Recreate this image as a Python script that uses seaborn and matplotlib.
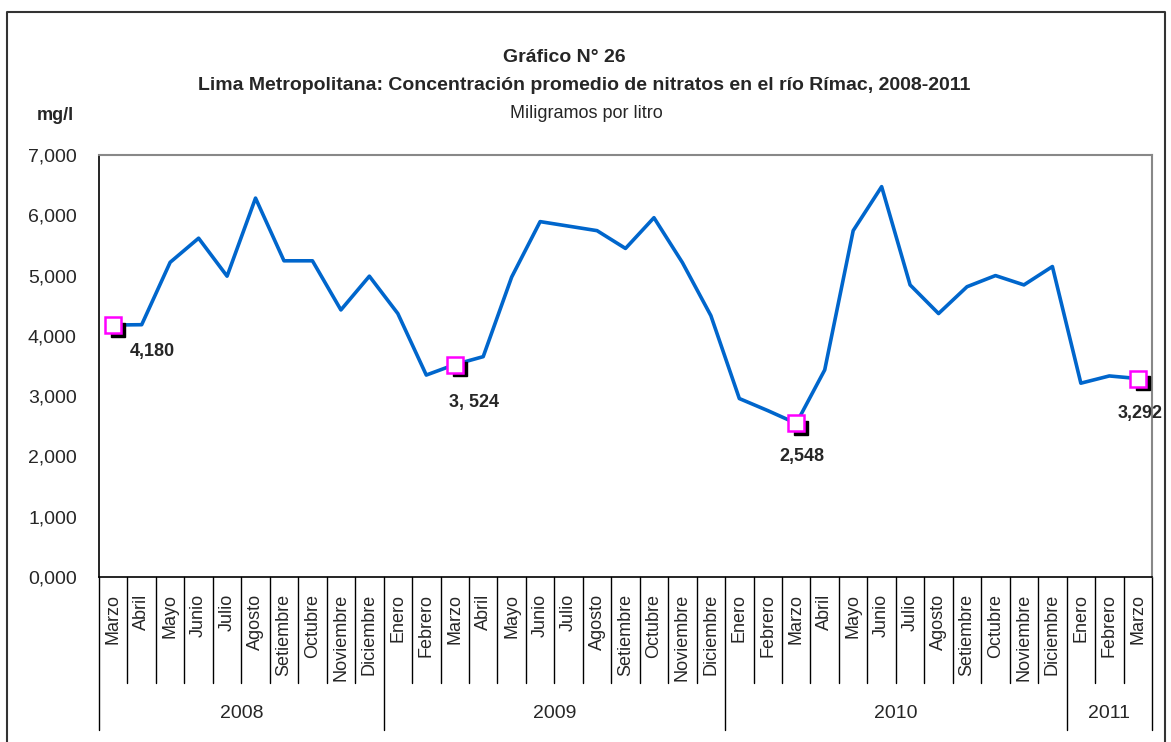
import numpy as np
import pandas as pd
import seaborn as sns
import matplotlib.pyplot as plt
from matplotlib.lines import Line2D
from matplotlib.transforms import offset_copy, blended_transform_factory
from matplotlib.ticker import FuncFormatter

# Monthly data, Marzo 2008 - Marzo 2011
meses = ["Marzo", "Abril", "Mayo", "Junio", "Julio", "Agosto", "Setiembre", "Octubre",
         "Noviembre", "Diciembre",
         "Enero", "Febrero", "Marzo", "Abril", "Mayo", "Junio", "Julio", "Agosto",
         "Setiembre", "Octubre", "Noviembre", "Diciembre",
         "Enero", "Febrero", "Marzo", "Abril", "Mayo", "Junio", "Julio", "Agosto",
         "Setiembre", "Octubre", "Noviembre", "Diciembre",
         "Enero", "Febrero", "Marzo"]
nitratos = [4180, 4185, 5220, 5620, 4990, 6285, 5245, 5245, 4430, 4990,
            4370, 3350, 3524, 3655, 4975, 5895, 5820, 5745, 5450, 5960, 5215, 4335,
            2960, 2760, 2548, 3435, 5745, 6475, 4845, 4370, 4815, 5000, 4845, 5150,
            3215, 3335, 3292]
anios = ["2008", "2009", "2010", "2011"]
meses_por_anio = [10, 12, 12, 3]
destacados = [0, 12, 24, 36]
etiquetas = ["4,180", "3, 524", "2,548", "3,292"]

sns.set_style("white")
plt.rcParams["font.family"] = ["Liberation Sans Narrow", "Liberation Sans", "DejaVu Sans"]

df = pd.DataFrame({"pos": np.arange(len(nitratos)), "valor": nitratos})

fig = plt.figure(figsize=(11.71, 7.42), dpi=100)
ax = fig.add_axes([99 / 1171, 1 - 577 / 742, (1152 - 99) / 1171, (577 - 155) / 742])

sns.lineplot(data=df, x="pos", y="valor", ax=ax, color="#0066CC", linewidth=2.6)

# highlighted March points with shadow
hx = [df["pos"][i] for i in destacados]
hy = [df["valor"][i] for i in destacados]
shadow = offset_copy(ax.transData, fig=fig, x=3.5, y=-3.5, units="points")
ax.plot(hx, hy, "s", color="black", markersize=10, transform=shadow, zorder=4, clip_on=False)
ax.plot(hx, hy, "s", markerfacecolor="white", markeredgecolor="#FF00FF",
        markeredgewidth=1.8, markersize=11, zorder=5, linestyle="none", clip_on=False)

offsets = [(28, -19), (14, -27), (4, -24), (2, -25)]
for x, y, t, o in zip(hx, hy, etiquetas, offsets):
    ax.annotate(t, (x, y), xytext=o, textcoords="offset points", ha="center", va="center",
                fontsize=13, fontweight="bold")

ax.set_xlim(-0.5, len(nitratos) - 0.5)
ax.set_ylim(0, 7000)
ax.set_yticks(range(0, 7001, 1000))
ax.yaxis.set_major_formatter(FuncFormatter(lambda v, p: f"{int(v) // 1000},000"))
ax.tick_params(axis="y", direction="out", length=6, width=1, color="black", labelsize=14, pad=10)
ax.set_xticks(df["pos"])
ax.set_xticklabels(meses, rotation=90, fontsize=13, va="top", ha="center")
ax.tick_params(axis="x", length=0, pad=12)
ax.set_xlabel("")
ax.set_ylabel("")

for s in ["top", "right"]:
    ax.spines[s].set_color("#888888")
    ax.spines[s].set_linewidth(1.5)
for s in ["left", "bottom"]:
    ax.spines[s].set_color("black")
    ax.spines[s].set_linewidth(1.2)

# separators below the axis
trans = blended_transform_factory(ax.transData, ax.transAxes)
px = 1 / (577 - 155)
bordes = np.cumsum([0] + meses_por_anio) - 0.5
for b in np.arange(-0.5, len(nitratos), 1.0):
    largo = 153 if np.isclose(bordes, b).any() else 106
    ax.add_line(Line2D([b, b], [0, -largo * px], transform=trans, color="black",
                       linewidth=1, clip_on=False))
for a, ini, fin in zip(anios, bordes[:-1], bordes[1:]):
    ax.text((ini + fin) / 2, -136 * px, a, transform=trans, ha="center", va="center",
            fontsize=14)

fig.text(564 / 1171, 1 - 58 / 742, "Gráfico N° 26", ha="center", va="center",
         fontsize=14, fontweight="bold")
fig.text(584 / 1171, 1 - 86 / 742,
         "Lima Metropolitana: Concentración promedio de nitratos en el río Rímac, 2008-2011",
         ha="center", va="center", fontsize=14, fontweight="bold")
fig.text(586 / 1171, 1 - 113 / 742, "Miligramos por litro", ha="center", va="center",
         fontsize=13)
fig.text(55 / 1171, 1 - 115 / 742, "mg/l", ha="center", va="center", fontsize=13,
         fontweight="bold")

# outer frame
fx0, fx1, fy1 = 7 / 1171, 1165 / 1171, 1 - 12 / 742
fig.add_artist(Line2D([fx0, fx0, fx1, fx1], [0, fy1, fy1, 0], transform=fig.transFigure,
                      color="#333333", linewidth=1.5))

fig.savefig("out.png", dpi=100)
